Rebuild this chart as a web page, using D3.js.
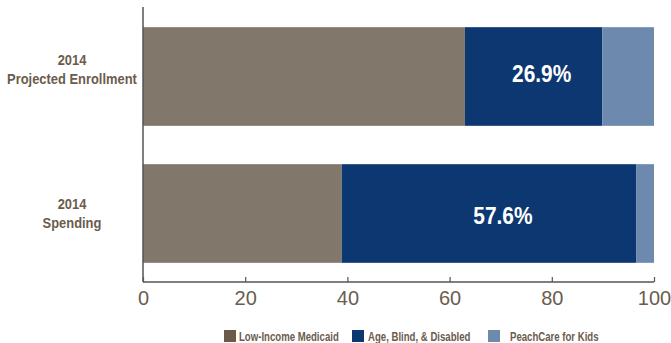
<!DOCTYPE html>
<html>
<head>
<meta charset="utf-8">
<script src="https://cdn.jsdelivr.net/npm/d3@7"></script>
<style>
  body { margin: 0; background: #fff; }
  svg { display: block; }
  .cat { font-family: "Liberation Sans", Arial, sans-serif; font-weight: bold; font-size: 15px; fill: #6b5c4d; }
  .tick text { font-family: "Liberation Sans", Arial, sans-serif; font-size: 20px; fill: #6b5c4d; }
  .legend text { font-family: "Liberation Sans", Arial, sans-serif; font-weight: bold; font-size: 12px; fill: #6b5c4d; }
  .val { font-family: "Liberation Sans", Arial, sans-serif; font-weight: bold; font-size: 24px; fill: #fff; }
</style>
</head>
<body>
<script>
var categories = ["2014|Projected Enrollment", "2014|Spending"];
var seriesNames = ["Low-Income Medicaid", "Age, Blind, & Disabled", "PeachCare for Kids"];
var lowIncome = [63.0, 38.9];
var ageBlind = [26.9, 57.6];
var peachCare = [10.1, 3.5];
var xTicks = [0, 20, 40, 60, 80, 100];

var barColors = ["#81786b", "#0d3770", "#6d89ad"];
var legendColors = ["#6b5a49", "#0d3770", "#6d89ad"];

var width = 671, height = 343;
var margin = {left: 143, right: 17};

// squeeze text to look like a condensed face
function condense(sel, k) {
	sel.each(function(){
		var w = this.getComputedTextLength();
		d3.select(this).attr("textLength", w * k).attr("lengthAdjust", "spacingAndGlyphs");
	});
}

var rows = categories.map(function(c, i){
	return {cat: c, "Low-Income Medicaid": lowIncome[i], "Age, Blind, & Disabled": ageBlind[i], "PeachCare for Kids": peachCare[i]};
});

var layers = d3.stack().keys(seriesNames)(rows);

var x = d3.scaleLinear().domain([0, 100]).range([margin.left, width - margin.right]);
var y = d3.scaleBand().domain(categories).range([8, 282]).paddingInner(0.28).paddingOuter(0.14);

var svg = d3.select("body").append("svg").attr("width", width).attr("height", height);

var color = d3.scaleOrdinal().domain(seriesNames).range(barColors);

svg.selectAll("g.layer").data(layers).enter().append("g")
	.attr("class", "layer")
	.attr("fill", function(d){ return color(d.key); })
	.selectAll("rect").data(function(d){ return d; }).enter().append("rect")
	.attr("x", function(d){ return x(d[0]); })
	.attr("width", function(d){ return x(d[1]) - x(d[0]); })
	.attr("y", function(d){ return y(d.data.cat); })
	.attr("height", y.bandwidth());

// value labels on the middle segment
var labelShift = [[8, -4], [14, 1]];
svg.selectAll("text.val").data(layers[1]).enter().append("text")
	.attr("class", "val")
	.attr("x", function(d, i){ return (x(d[0]) + x(d[1])) / 2 + labelShift[i][0]; })
	.attr("y", function(d, i){ return y(d.data.cat) + y.bandwidth() / 2 + 9 + labelShift[i][1]; })
	.attr("text-anchor", "middle")
	.text(function(d){ return d3.format(".1f")(d[1] - d[0]) + "%"; })
	.call(condense, 0.87);

// category labels
var catShift = [-8, -1];
categories.forEach(function(c, i){
	var parts = c.split("|");
	var cy = y(c) + y.bandwidth() / 2 + catShift[i];
	svg.append("text").attr("class", "cat").attr("text-anchor", "middle")
		.attr("x", 72).attr("y", cy - 4).text(parts[0]).call(condense, 0.86);
	svg.append("text").attr("class", "cat").attr("text-anchor", "middle")
		.attr("x", 72).attr("y", cy + 15).text(parts[1]).call(condense, 0.86);
});

// x axis
var xAxis = d3.axisBottom(x).tickValues(xTicks).tickSize(-5).tickPadding(9);
var gx = svg.append("g").attr("transform", "translate(0,282)").call(xAxis);
gx.select(".domain").attr("stroke", "#555").attr("stroke-width", 1.5).attr("d", "M" + x(0) + ",0H" + x(100));
gx.selectAll(".tick line").attr("stroke", "#555").attr("stroke-width", 1.2);

// y axis line
svg.append("line")
	.attr("x1", x(0)).attr("x2", x(0))
	.attr("y1", 7).attr("y2", 282)
	.attr("stroke", "#555").attr("stroke-width", 1.5);

// legend
var legendX = [224, 352, 488];
var legendGap = [15, 16, 22];
var legend = svg.append("g").attr("class", "legend");
seriesNames.forEach(function(s, i){
	legend.append("rect").attr("x", legendX[i]).attr("y", 330).attr("width", 12).attr("height", 12).attr("fill", legendColors[i]);
	legend.append("text").attr("x", legendX[i] + legendGap[i]).attr("y", 341).text(s).call(condense, 0.8);
});
</script>
</body>
</html>
